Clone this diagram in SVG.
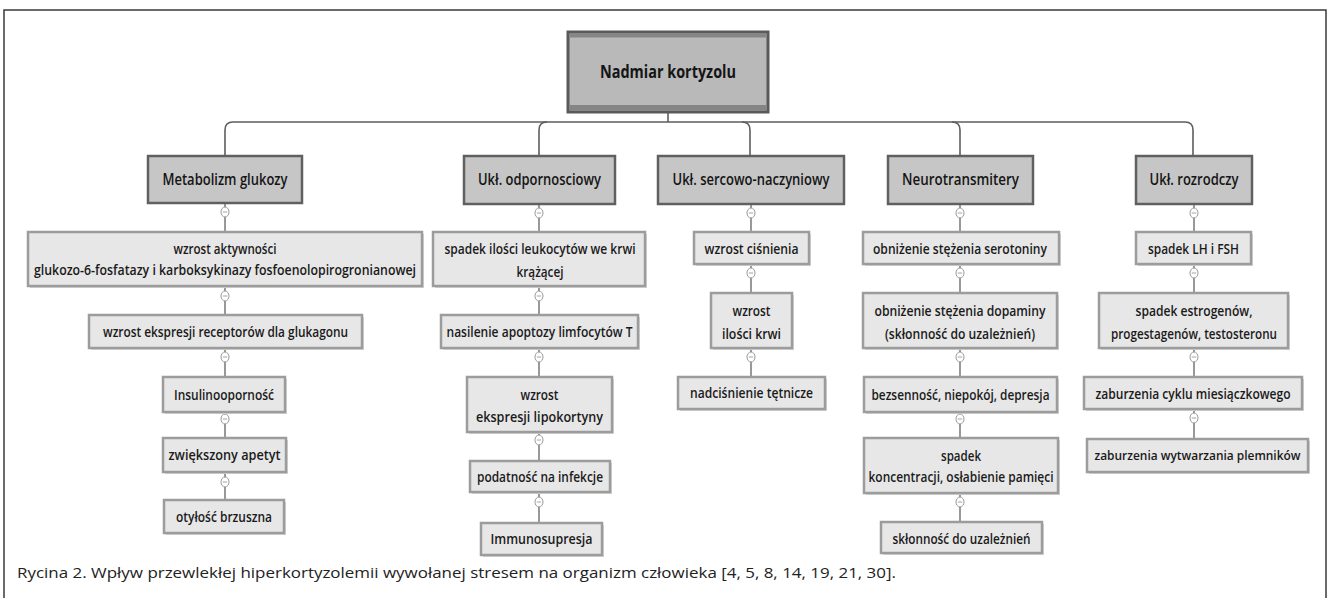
<svg xmlns="http://www.w3.org/2000/svg" width="1330" height="598" viewBox="0 0 1330 598">
<style>
.bg{fill:#ffffff}
.frame{fill:none;stroke:#3a3a3a;stroke-width:1.5}
.top{fill:#b9b9b9;stroke:#5a5a5a;stroke-width:3}
.band{fill:#858585}
.hdr{fill:#c6c6c6;stroke:#606060;stroke-width:2.5}
.box{fill:#e7e7e7;stroke:#9c9c9c;stroke-width:2.5}
.sh{fill:#d6d6d6}
.t{font-family:"Open Sans","Liberation Sans",sans-serif;font-weight:600;font-size:14px;fill:#1a1a1a;text-anchor:middle}
.th{font-family:"Open Sans","Liberation Sans",sans-serif;font-weight:600;font-size:15.5px;fill:#151515;text-anchor:middle}
.tt{font-family:"Open Sans","Liberation Sans",sans-serif;font-weight:700;font-size:17px;fill:#151515;text-anchor:middle}
.cap{font-family:"Open Sans","Liberation Sans",sans-serif;font-weight:400;font-size:15px;fill:#222}
.ln{fill:none;stroke:#6e6e6e;stroke-width:1.4}
.bus{fill:none;stroke:#5e5e5e;stroke-width:1.6}
.knob{fill:#ffffff;stroke:#9a9a9a;stroke-width:1}
.minus{stroke:#9a9a9a;stroke-width:0.9}
</style>
<rect class="bg" x="0" y="0" width="1330" height="598"/>
<path class="frame" d="M4,598 V10 H1326 V598"/>

<g id="connectors">
  <path class="bus" d="M668,112 V122"/>
  <path class="bus" d="M225,156 V130 Q225,122 233,122 H1185 Q1193,122 1193,130 V156"/>
  <path class="bus" d="M539,156 V130 Q539,122 547,122"/>
  <path class="bus" d="M750,156 V130 Q750,122 742,122"/>
  <path class="bus" d="M960,156 V130 Q960,122 952,122"/>
  <path class="ln" d="M225,203 V232 M225,286 V315 M225,348 V377 M225,412 V438 M225,472 V500"/>
  <path class="ln" d="M539,204 V232 M539,286 V315 M539,348 V377 M539,432 V461 M539,492 V523"/>
  <path class="ln" d="M751,204 V232 M751,264 V293 M751,348 V377"/>
  <path class="ln" d="M960,204 V232 M960,264 V293 M960,348 V377 M960,412 V438 M960,493 V522"/>
  <path class="ln" d="M1194,204 V232 M1194,264 V293 M1194,348 V377 M1194,409 V439"/>
  <g id="knobs">
    <g transform="translate(225,212)"><ellipse class="knob" rx="4" ry="5"/><path class="minus" d="M-2.2,0 H2.2"/></g>
    <g transform="translate(225,296)"><ellipse class="knob" rx="4" ry="5"/><path class="minus" d="M-2.2,0 H2.2"/></g>
    <g transform="translate(225,357)"><ellipse class="knob" rx="4" ry="5"/><path class="minus" d="M-2.2,0 H2.2"/></g>
    <g transform="translate(225,419)"><ellipse class="knob" rx="4" ry="5"/><path class="minus" d="M-2.2,0 H2.2"/></g>
    <g transform="translate(225,482)"><ellipse class="knob" rx="4" ry="5"/><path class="minus" d="M-2.2,0 H2.2"/></g>
    <g transform="translate(539,213)"><ellipse class="knob" rx="4" ry="5"/><path class="minus" d="M-2.2,0 H2.2"/></g>
    <g transform="translate(539,296)"><ellipse class="knob" rx="4" ry="5"/><path class="minus" d="M-2.2,0 H2.2"/></g>
    <g transform="translate(539,357)"><ellipse class="knob" rx="4" ry="5"/><path class="minus" d="M-2.2,0 H2.2"/></g>
    <g transform="translate(539,440)"><ellipse class="knob" rx="4" ry="5"/><path class="minus" d="M-2.2,0 H2.2"/></g>
    <g transform="translate(539,502)"><ellipse class="knob" rx="4" ry="5"/><path class="minus" d="M-2.2,0 H2.2"/></g>
    <g transform="translate(751,213)"><ellipse class="knob" rx="4" ry="5"/><path class="minus" d="M-2.2,0 H2.2"/></g>
    <g transform="translate(751,273)"><ellipse class="knob" rx="4" ry="5"/><path class="minus" d="M-2.2,0 H2.2"/></g>
    <g transform="translate(751,357)"><ellipse class="knob" rx="4" ry="5"/><path class="minus" d="M-2.2,0 H2.2"/></g>
    <g transform="translate(960,213)"><ellipse class="knob" rx="4" ry="5"/><path class="minus" d="M-2.2,0 H2.2"/></g>
    <g transform="translate(960,273)"><ellipse class="knob" rx="4" ry="5"/><path class="minus" d="M-2.2,0 H2.2"/></g>
    <g transform="translate(960,357)"><ellipse class="knob" rx="4" ry="5"/><path class="minus" d="M-2.2,0 H2.2"/></g>
    <g transform="translate(960,419)"><ellipse class="knob" rx="4" ry="5"/><path class="minus" d="M-2.2,0 H2.2"/></g>
    <g transform="translate(960,502)"><ellipse class="knob" rx="4" ry="5"/><path class="minus" d="M-2.2,0 H2.2"/></g>
    <g transform="translate(1194,213)"><ellipse class="knob" rx="4" ry="5"/><path class="minus" d="M-2.2,0 H2.2"/></g>
    <g transform="translate(1194,273)"><ellipse class="knob" rx="4" ry="5"/><path class="minus" d="M-2.2,0 H2.2"/></g>
    <g transform="translate(1194,357)"><ellipse class="knob" rx="4" ry="5"/><path class="minus" d="M-2.2,0 H2.2"/></g>
    <g transform="translate(1194,418)"><ellipse class="knob" rx="4" ry="5"/><path class="minus" d="M-2.2,0 H2.2"/></g>
  </g>
</g>

<g id="n-root">
  <rect class="top" x="568" y="32" width="200" height="80"/>
  <rect class="band" x="569.5" y="33.5" width="197" height="4"/>
  <rect class="band" x="569.5" y="105" width="197" height="5.5"/>
  <text class="tt" x="668" y="78" textLength="136" lengthAdjust="spacingAndGlyphs">Nadmiar kortyzolu</text>
</g>

<g id="h-glukoza"><rect class="hdr" x="148" y="156" width="154" height="47"/><text class="th" x="225" y="185" textLength="125" lengthAdjust="spacingAndGlyphs">Metabolizm glukozy</text></g>
<g id="h-odporn"><rect class="hdr" x="464" y="156" width="151" height="48"/><text class="th" x="539.5" y="185" textLength="123" lengthAdjust="spacingAndGlyphs">Ukł. odpornosciowy</text></g>
<g id="h-serce"><rect class="hdr" x="658" y="156" width="186" height="48"/><text class="th" x="751" y="185" textLength="157" lengthAdjust="spacingAndGlyphs">Ukł. sercowo-naczyniowy</text></g>
<g id="h-neuro"><rect class="hdr" x="888" y="156" width="145" height="48"/><text class="th" x="960.5" y="185" textLength="117" lengthAdjust="spacingAndGlyphs">Neurotransmitery</text></g>
<g id="h-rozrod"><rect class="hdr" x="1136" y="156" width="116" height="48"/><text class="th" x="1194" y="185" textLength="89" lengthAdjust="spacingAndGlyphs">Ukł. rozrodczy</text></g>

<g id="c1-1"><rect class="sh" x="30" y="234" width="394" height="54"/><rect class="box" x="28" y="232" width="394" height="54"/>
  <text class="t" x="225" y="254" textLength="103" lengthAdjust="spacingAndGlyphs">wzrost aktywności</text>
  <text class="t" x="225" y="275" textLength="382" lengthAdjust="spacingAndGlyphs">glukozo-6-fosfatazy i karboksykinazy fosfoenolopirogronianowej</text></g>
<g id="c1-2"><rect class="sh" x="91" y="317" width="273" height="33"/><rect class="box" x="89" y="315" width="273" height="33"/>
  <text class="t" x="225.5" y="337" textLength="245" lengthAdjust="spacingAndGlyphs">wzrost ekspresji receptorów dla glukagonu</text></g>
<g id="c1-3"><rect class="sh" x="165" y="379" width="122" height="35"/><rect class="box" x="163" y="377" width="122" height="35"/>
  <text class="t" x="224" y="400" textLength="100" lengthAdjust="spacingAndGlyphs">Insulinooporność</text></g>
<g id="c1-4"><rect class="sh" x="165" y="440" width="123" height="34"/><rect class="box" x="163" y="438" width="123" height="34"/>
  <text class="t" x="224.5" y="460" textLength="112" lengthAdjust="spacingAndGlyphs">zwiększony apetyt</text></g>
<g id="c1-5"><rect class="sh" x="166" y="502" width="120" height="33"/><rect class="box" x="164" y="500" width="120" height="33"/>
  <text class="t" x="224" y="522" textLength="96" lengthAdjust="spacingAndGlyphs">otyłość brzuszna</text></g>

<g id="c2-1"><rect class="sh" x="435" y="234" width="212" height="54"/><rect class="box" x="433" y="232" width="212" height="54"/>
  <text class="t" x="540" y="254" textLength="191" lengthAdjust="spacingAndGlyphs">spadek ilości leukocytów we krwi</text>
  <text class="t" x="540" y="277" textLength="47" lengthAdjust="spacingAndGlyphs">krążącej</text></g>
<g id="c2-2"><rect class="sh" x="443" y="317" width="197" height="33"/><rect class="box" x="441" y="315" width="197" height="33"/>
  <text class="t" x="539.5" y="337" textLength="186" lengthAdjust="spacingAndGlyphs">nasilenie apoptozy limfocytów T</text></g>
<g id="c2-3"><rect class="sh" x="469" y="379" width="145" height="55"/><rect class="box" x="467" y="377" width="145" height="55"/>
  <text class="t" x="539.5" y="400" textLength="38" lengthAdjust="spacingAndGlyphs">wzrost</text>
  <text class="t" x="539.5" y="422" textLength="127" lengthAdjust="spacingAndGlyphs">ekspresji lipokortyny</text></g>
<g id="c2-4"><rect class="sh" x="472" y="463" width="140" height="31"/><rect class="box" x="470" y="461" width="140" height="31"/>
  <text class="t" x="540" y="482" textLength="126" lengthAdjust="spacingAndGlyphs">podatność na infekcje</text></g>
<g id="c2-5"><rect class="sh" x="483" y="525" width="121" height="32"/><rect class="box" x="481" y="523" width="121" height="32"/>
  <text class="t" x="541.5" y="544" textLength="102" lengthAdjust="spacingAndGlyphs">Immunosupresja</text></g>

<g id="c3-1"><rect class="sh" x="696" y="234" width="115" height="32"/><rect class="box" x="694" y="232" width="115" height="32"/>
  <text class="t" x="751.5" y="254" textLength="94" lengthAdjust="spacingAndGlyphs">wzrost ciśnienia</text></g>
<g id="c3-2"><rect class="sh" x="713" y="295" width="81" height="55"/><rect class="box" x="711" y="293" width="81" height="55"/>
  <text class="t" x="751.5" y="316" textLength="38" lengthAdjust="spacingAndGlyphs">wzrost</text>
  <text class="t" x="751.5" y="339" textLength="59" lengthAdjust="spacingAndGlyphs">ilości krwi</text></g>
<g id="c3-3"><rect class="sh" x="680" y="379" width="147" height="32"/><rect class="box" x="678" y="377" width="147" height="32"/>
  <text class="t" x="751.5" y="398" textLength="123" lengthAdjust="spacingAndGlyphs">nadciśnienie tętnicze</text></g>

<g id="c4-1"><rect class="sh" x="865" y="234" width="196" height="32"/><rect class="box" x="863" y="232" width="196" height="32"/>
  <text class="t" x="960" y="254" textLength="174" lengthAdjust="spacingAndGlyphs">obniżenie stężenia serotoniny</text></g>
<g id="c4-2"><rect class="sh" x="865" y="295" width="194" height="55"/><rect class="box" x="863" y="293" width="194" height="55"/>
  <text class="t" x="960" y="316" textLength="171" lengthAdjust="spacingAndGlyphs">obniżenie stężenia dopaminy</text>
  <text class="t" x="960" y="339" textLength="150" lengthAdjust="spacingAndGlyphs">(skłonność do uzależnień)</text></g>
<g id="c4-3"><rect class="sh" x="866" y="379" width="193" height="35"/><rect class="box" x="864" y="377" width="193" height="35"/>
  <text class="t" x="960.5" y="400" textLength="178" lengthAdjust="spacingAndGlyphs">bezsenność, niepokój, depresja</text></g>
<g id="c4-4"><rect class="sh" x="866" y="440" width="194" height="55"/><rect class="box" x="864" y="438" width="194" height="55"/>
  <text class="t" x="961" y="461" textLength="40" lengthAdjust="spacingAndGlyphs">spadek</text>
  <text class="t" x="961" y="482" textLength="185" lengthAdjust="spacingAndGlyphs">koncentracji, osłabienie pamięci</text></g>
<g id="c4-5"><rect class="sh" x="883" y="524" width="161" height="31"/><rect class="box" x="881" y="522" width="161" height="31"/>
  <text class="t" x="961.5" y="544" textLength="138" lengthAdjust="spacingAndGlyphs">skłonność do uzależnień</text></g>

<g id="c5-1"><rect class="sh" x="1138" y="234" width="115" height="32"/><rect class="box" x="1136" y="232" width="115" height="32"/>
  <text class="t" x="1193.5" y="254" textLength="91" lengthAdjust="spacingAndGlyphs">spadek LH i FSH</text></g>
<g id="c5-2"><rect class="sh" x="1101" y="295" width="189" height="55"/><rect class="box" x="1099" y="293" width="189" height="55"/>
  <text class="t" x="1194" y="316" textLength="117" lengthAdjust="spacingAndGlyphs">spadek estrogenów,</text>
  <text class="t" x="1194" y="339" textLength="166" lengthAdjust="spacingAndGlyphs">progestagenów, testosteronu</text></g>
<g id="c5-3"><rect class="sh" x="1086" y="379" width="218" height="32"/><rect class="box" x="1084" y="377" width="218" height="32"/>
  <text class="t" x="1193" y="399" textLength="195" lengthAdjust="spacingAndGlyphs">zaburzenia cyklu miesiączkowego</text></g>
<g id="c5-4"><rect class="sh" x="1089" y="441" width="221" height="33"/><rect class="box" x="1087" y="439" width="221" height="33"/>
  <text class="t" x="1197.5" y="460" style="font-size:12.5px" textLength="206" lengthAdjust="spacingAndGlyphs">zaburzenia wytwarzania plemników</text></g>

<text class="cap" x="17" y="578" textLength="879" lengthAdjust="spacingAndGlyphs">Rycina 2. Wpływ przewlekłej hiperkortyzolemii wywołanej stresem na organizm człowieka [4, 5, 8, 14, 19, 21, 30].</text>
</svg>
